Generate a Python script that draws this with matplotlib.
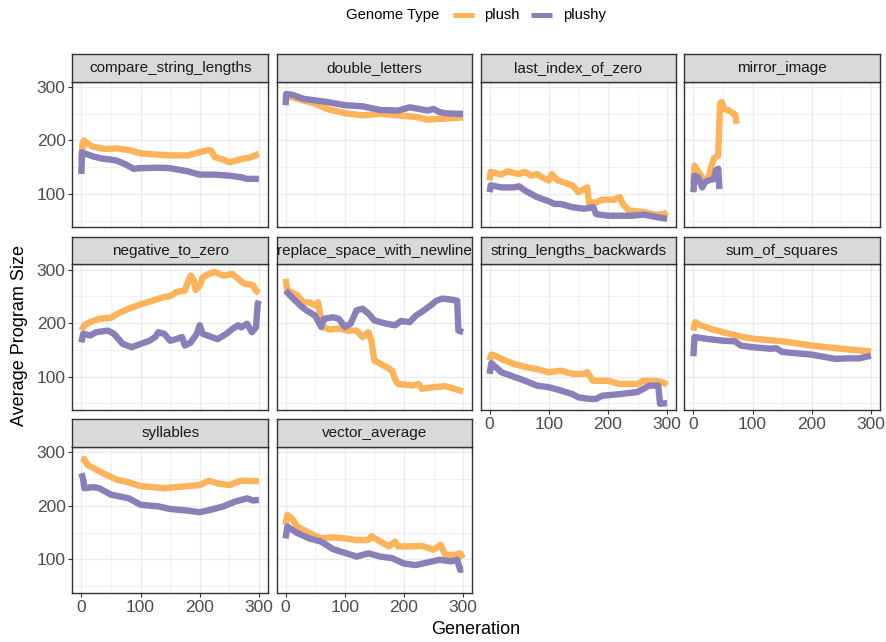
import matplotlib
matplotlib.use("Agg")
import matplotlib.pyplot as plt
from matplotlib.lines import Line2D

plt.rcParams['font.family'] = ['Liberation Sans', 'DejaVu Sans']

# ---------------------------------------------------------------
# data (generation, average program size)
# ---------------------------------------------------------------
problems = ['compare_string_lengths', 'double_letters', 'last_index_of_zero', 'mirror_image',
            'negative_to_zero', 'replace_space_with_newline', 'string_lengths_backwards',
            'sum_of_squares', 'syllables', 'vector_average']
genome_types = ['plush', 'plushy']

csl_plush_x = [0, 2, 4, 10, 20, 40, 60, 80, 100, 120, 150, 180, 200, 215, 220, 225, 240, 250, 260, 270, 285, 300]
csl_plush_y = [162, 195, 200, 194, 188, 184, 185, 182, 176, 174, 172, 172, 178, 182, 180, 169, 164, 159, 162, 165, 168, 175]
csl_plushy_x = [0, 1, 2, 10, 20, 35, 50, 60, 75, 88, 100, 130, 150, 160, 180, 200, 225, 250, 270, 280, 300]
csl_plushy_y = [137, 178, 177, 174, 170, 166, 164, 162, 155, 147, 148, 149, 148, 146, 142, 136, 136, 134, 131, 128, 128]

dl_plush_x = [0, 10, 30, 50, 70, 100, 130, 160, 190, 220, 240, 270, 300]
dl_plush_y = [284, 281, 275, 269, 259, 251, 247, 250, 247, 244, 239, 241, 243]
dl_plushy_x = [0, 1, 2, 10, 30, 50, 70, 100, 130, 160, 190, 210, 230, 240, 250, 260, 270, 285, 300]
dl_plushy_y = [266, 287, 286, 286, 278, 275, 272, 266, 264, 257, 256, 262, 258, 256, 259, 253, 251, 250, 250]

liz_plush_x = [0, 2, 20, 30, 50, 60, 70, 80, 90, 100, 105, 115, 140, 150, 160, 165, 168, 180, 190, 210, 220,
               225, 235, 260, 280, 295, 300]
liz_plush_y = [125, 141, 136, 142, 137, 141, 134, 137, 130, 125, 137, 125, 116, 103, 109, 112, 84, 84, 89, 89, 94,
               81, 69, 66, 61, 62, 66]
liz_plushy_x = [0, 2, 20, 40, 50, 60, 80, 100, 110, 120, 140, 160, 175, 180, 200, 240, 260, 280, 300]
liz_plushy_y = [103, 116, 112, 112, 114, 106, 94, 86, 81, 81, 75, 72, 75, 62, 59, 59, 61, 57, 53]

mi_plush_x = [0, 2, 5, 15, 20, 25, 30, 35, 42, 45, 48, 52, 60, 68, 71, 73]
mi_plush_y = [119, 153, 147, 131, 125, 128, 150, 167, 172, 269, 272, 259, 256, 250, 248, 231]
mi_plushy_x = [0, 2, 8, 15, 20, 25, 35, 38, 42, 44]
mi_plushy_y = [103, 134, 131, 112, 122, 125, 128, 144, 147, 109]

ntz_plush_x = [0, 5, 15, 30, 50, 60, 80, 100, 120, 140, 150, 160, 175, 180, 185, 190, 193, 200, 205, 215,
               225, 240, 255, 265, 275, 290, 295, 300]
ntz_plush_y = [186, 196, 202, 208, 210, 217, 227, 235, 242, 249, 250, 258, 261, 277, 289, 280, 262, 270, 286, 292,
               296, 289, 292, 283, 274, 271, 261, 256]
ntz_plushy_x = [0, 3, 15, 25, 45, 55, 70, 85, 100, 115, 125, 130, 140, 150, 160, 170, 175, 185, 195, 200, 205,
                220, 230, 245, 255, 265, 270, 280, 288, 295, 298, 300]
ntz_plushy_y = [164, 180, 177, 183, 186, 180, 161, 155, 161, 167, 174, 183, 180, 167, 170, 174, 158, 164, 180, 196, 180,
                174, 170, 180, 189, 196, 192, 199, 183, 192, 236, 242]

rsn_plush_x = [0, 3, 10, 20, 30, 40, 50, 55, 62, 75, 90, 105, 120, 130, 140, 145, 150, 160, 170, 180, 185, 190,
               200, 215, 225, 230, 250, 270, 285, 300]
rsn_plush_y = [283, 261, 258, 252, 239, 239, 233, 239, 193, 188, 190, 186, 186, 174, 183, 167, 130, 124, 118, 111, 95, 86,
               85, 83, 86, 77, 80, 82, 77, 72]
rsn_plushy_x = [0, 10, 25, 35, 50, 60, 65, 80, 90, 100, 110, 120, 130, 140, 150, 170, 185, 195, 210, 220, 230,
                245, 255, 265, 280, 290, 292, 300]
rsn_plushy_y = [261, 249, 233, 224, 214, 193, 208, 211, 208, 193, 199, 224, 227, 218, 205, 199, 196, 204, 202, 214, 221,
                233, 242, 246, 244, 242, 186, 183]

slb_plush_x = [0, 3, 10, 20, 40, 60, 80, 100, 120, 140, 160, 165, 175, 200, 220, 250, 260, 280, 295, 300]
slb_plush_y = [130, 141, 139, 133, 124, 118, 114, 108, 111, 105, 105, 108, 92, 92, 86, 86, 92, 92, 88, 84]
slb_plushy_x = [0, 3, 20, 40, 60, 80, 100, 120, 140, 150, 170, 180, 190, 220, 250, 270, 285, 288, 300]
slb_plushy_y = [105, 125, 108, 100, 92, 83, 80, 74, 67, 61, 58, 58, 64, 67, 71, 83, 83, 49, 50]

sos_plush_x = [0, 3, 10, 30, 50, 80, 100, 150, 200, 250, 300]
sos_plush_y = [186, 202, 197, 189, 183, 175, 171, 166, 158, 152, 147]
sos_plushy_x = [0, 2, 20, 50, 70, 80, 100, 130, 140, 150, 200, 240, 260, 280, 300]
sos_plushy_y = [138, 174, 171, 167, 166, 158, 155, 152, 153, 146, 141, 133, 134, 134, 139]

syl_plush_x = [0, 5, 10, 20, 40, 60, 80, 100, 120, 140, 160, 180, 200, 215, 230, 250, 270, 300]
syl_plush_y = [289, 287, 277, 271, 259, 249, 244, 237, 235, 233, 235, 237, 239, 247, 242, 239, 247, 246]
syl_plushy_x = [0, 3, 5, 20, 30, 50, 80, 100, 130, 150, 180, 200, 220, 240, 260, 280, 290, 300]
syl_plushy_y = [261, 250, 233, 235, 233, 221, 214, 202, 199, 194, 191, 188, 193, 199, 208, 214, 210, 211]

va_plush_x = [0, 3, 10, 20, 40, 60, 80, 100, 120, 140, 145, 160, 175, 185, 190, 210, 230, 250, 262, 270, 285, 295, 300]
va_plush_y = [164, 183, 177, 161, 149, 139, 141, 139, 136, 136, 143, 133, 124, 133, 124, 124, 125, 118, 127, 108, 108, 111, 102]
va_plushy_x = [0, 3, 20, 40, 60, 80, 100, 120, 140, 160, 180, 200, 220, 240, 260, 280, 290, 295, 300]
va_plushy_y = [139, 161, 149, 139, 133, 119, 112, 105, 111, 105, 102, 92, 89, 94, 99, 96, 99, 80, 81]

series = [
    ((csl_plush_x, csl_plush_y), (csl_plushy_x, csl_plushy_y)),
    ((dl_plush_x, dl_plush_y), (dl_plushy_x, dl_plushy_y)),
    ((liz_plush_x, liz_plush_y), (liz_plushy_x, liz_plushy_y)),
    ((mi_plush_x, mi_plush_y), (mi_plushy_x, mi_plushy_y)),
    ((ntz_plush_x, ntz_plush_y), (ntz_plushy_x, ntz_plushy_y)),
    ((rsn_plush_x, rsn_plush_y), (rsn_plushy_x, rsn_plushy_y)),
    ((slb_plush_x, slb_plush_y), (slb_plushy_x, slb_plushy_y)),
    ((sos_plush_x, sos_plush_y), (sos_plushy_x, sos_plushy_y)),
    ((syl_plush_x, syl_plush_y), (syl_plushy_x, syl_plushy_y)),
    ((va_plush_x, va_plush_y), (va_plushy_x, va_plushy_y)),
]

colors = ['#FDB35A', '#8A7FB8']

# ---------------------------------------------------------------
# layout (pixels), ggplot facet_wrap look
# ---------------------------------------------------------------
W, H = 887, 642
fig = plt.figure(figsize=(W / 100, H / 100), dpi=100)

col_left = [72.5, 276.7, 480.7, 684.5]
panel_w = 195.3
row_top = [81.7, 264.4, 447.1]
panel_h = 145.6
strip_h = 27.7
border_col = '#333333'


def px_axes(left, top, w, h):
    return fig.add_axes([left / W, 1 - (top + h) / H, w / W, h / H])


for i, name in enumerate(problems):
    r, c = divmod(i, 4)
    ax = px_axes(col_left[c], row_top[r], panel_w, panel_h)
    ax.set_xlim(-15, 315)
    ax.set_ylim(37.3, 310)
    ax.set_xticks([0, 100, 200, 300])
    ax.set_xticks([50, 150, 250], minor=True)
    ax.set_yticks([100, 200, 300])
    ax.set_yticks([50, 150, 250], minor=True)
    ax.grid(which='major', color='#EBEBEB', lw=1.0)
    ax.grid(which='minor', color='#EBEBEB', lw=0.5)
    ax.set_axisbelow(True)
    for sp in ax.spines.values():
        sp.set_color(border_col)
        sp.set_linewidth(1.0)
    ax.tick_params(which='major', length=2.75, width=0.8, color=border_col, pad=2.2,
                   labelsize=12.5, labelcolor='#4D4D4D')
    ax.tick_params(which='minor', length=0)

    show_x = (r == 2) or (r == 1 and c >= 2)
    show_y = (c == 0)
    if not show_x:
        ax.tick_params(axis='x', which='major', length=0, labelbottom=False)
    if not show_y:
        ax.tick_params(axis='y', which='major', length=0, labelleft=False)

    for (gx, gy), col in zip(series[i], colors):
        ax.plot(gx, gy, color=col, lw=4.6, solid_capstyle='butt', solid_joinstyle='round')

    sax = px_axes(col_left[c], row_top[r] - strip_h, panel_w, strip_h)
    sax.set_facecolor('#D9D9D9')
    sax.set_xticks([])
    sax.set_yticks([])
    for sp in sax.spines.values():
        sp.set_color(border_col)
        sp.set_linewidth(1.0)
    sax.text(0.5, 0.5, name, transform=sax.transAxes, ha='center', va='center',
             fontsize=11, color='#1A1A1A')

# axis titles
fig.text(476 / W, 1 - 630 / H, 'Generation', ha='center', va='center', fontsize=13)
fig.text(20 / W, 1 - 336 / H, 'Average Program Size', ha='center', va='center',
         rotation=90, fontsize=13)

# legend (horizontal, title on the left)
ly = 1 - 15 / H
fig.text(345.7 / W, ly, 'Genome Type', ha='left', va='center', fontsize=10.7)
key_x = [(452.7, 474.0), (531.0, 552.0)]
text_x = [484.3, 563.0]
for gname, col, (k0, k1), tx in zip(genome_types, colors, key_x, text_x):
    fig.add_artist(Line2D([k0 / W, k1 / W], [ly, ly], transform=fig.transFigure,
                          color=col, lw=3.6, solid_capstyle='butt'))
    fig.text(tx / W, ly, gname, ha='left', va='center', fontsize=10.7)

fig.savefig('out.png', dpi=100)
